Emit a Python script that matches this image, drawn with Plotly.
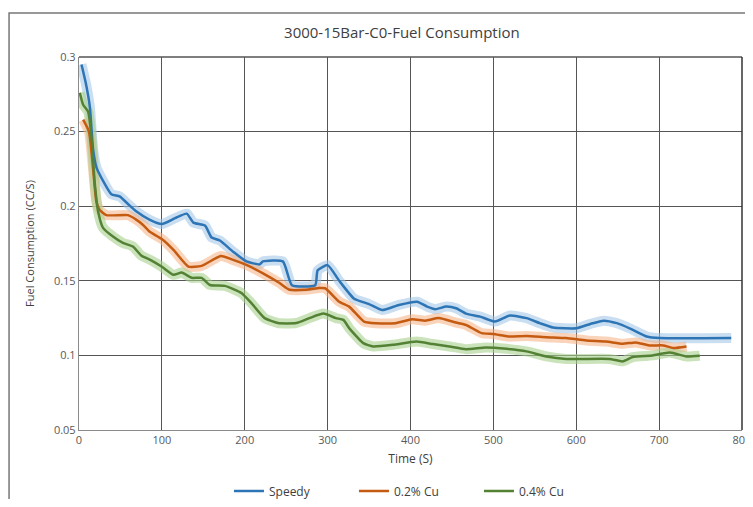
import plotly.graph_objects as go

speedy_x = [3, 8, 13, 17, 21, 29, 39, 49, 59, 69, 85, 100, 116, 130, 138, 152, 160, 170, 186, 202, 218, 222, 246, 257, 285, 288, 300, 314, 332, 350, 366, 386, 408, 420, 430, 443, 455, 467, 484, 502, 520, 540, 556, 572, 600, 617, 633, 649, 665, 685, 701, 787]
speedy_y = [0.295, 0.283, 0.267, 0.238, 0.226, 0.217, 0.208, 0.2066, 0.2015, 0.1966, 0.191, 0.188, 0.192, 0.195, 0.189, 0.187, 0.179, 0.177, 0.1695, 0.163, 0.161, 0.163, 0.163, 0.147, 0.147, 0.157, 0.1605, 0.150, 0.138, 0.1344, 0.1304, 0.1338, 0.136, 0.1327, 0.131, 0.1327, 0.1316, 0.128, 0.126, 0.1227, 0.1267, 0.125, 0.1216, 0.1187, 0.1182, 0.1211, 0.1233, 0.1216, 0.118, 0.1127, 0.1116, 0.1116]

cu02_x = [5, 12, 17, 21, 25, 33, 59, 69, 77, 85, 100, 114, 132, 148, 171, 186, 202, 222, 242, 254, 274, 290, 297, 314, 326, 344, 358, 382, 402, 418, 434, 455, 467, 486, 500, 518, 540, 564, 588, 612, 636, 656, 672, 688, 705, 717, 733]
cu02_y = [0.258, 0.25, 0.225, 0.203, 0.1974, 0.194, 0.194, 0.191, 0.1876, 0.183, 0.178, 0.1707, 0.1595, 0.160, 0.1666, 0.164, 0.1606, 0.155, 0.1485, 0.144, 0.144, 0.1452, 0.145, 0.136, 0.1327, 0.1227, 0.1216, 0.1216, 0.1242, 0.1233, 0.125, 0.122, 0.1204, 0.1149, 0.1144, 0.1127, 0.113, 0.1122, 0.1116, 0.11, 0.1093, 0.1078, 0.1087, 0.1067, 0.1067, 0.105, 0.106]

cu04_x = [1, 5, 11, 15, 19, 23, 29, 41, 53, 65, 75, 86, 100, 114, 124, 136, 148, 158, 176, 196, 208, 224, 240, 262, 278, 295, 310, 319, 326, 343, 355, 379, 407, 427, 447, 467, 491, 516, 540, 564, 588, 640, 656, 668, 692, 713, 733, 749]
cu04_y = [0.276, 0.268, 0.2634, 0.2466, 0.2155, 0.1966, 0.1855, 0.1797, 0.1754, 0.173, 0.167, 0.164, 0.1594, 0.154, 0.1555, 0.152, 0.152, 0.1472, 0.1466, 0.1418, 0.135, 0.125, 0.1217, 0.1217, 0.125, 0.128, 0.125, 0.1238, 0.1183, 0.1082, 0.106, 0.1071, 0.1093, 0.1076, 0.106, 0.1042, 0.1053, 0.1044, 0.1027, 0.0993, 0.0976, 0.0976, 0.096, 0.0989, 0.1, 0.102, 0.0993, 0.0998]

x_ticks = [0, 100, 200, 300, 400, 500, 600, 700, 800]
y_ticks = [0.05, 0.1, 0.15, 0.2, 0.25, 0.3]

series = [
    ("Speedy", speedy_x, speedy_y, "#2E75B6", "rgba(157,195,230,0.55)"),
    ("0.2% Cu", cu02_x, cu02_y, "#C55A11", "rgba(244,177,131,0.55)"),
    ("0.4% Cu", cu04_x, cu04_y, "#548235", "rgba(169,209,142,0.6)"),
]

fig = go.Figure()
for name, xs, ys, col, band in series:
    fig.add_trace(go.Scatter(x=xs, y=ys, mode="lines", line=dict(color=band, width=10, shape="spline", smoothing=0.5),
                             showlegend=False, hoverinfo="skip"))
for name, xs, ys, col, band in series:
    fig.add_trace(go.Scatter(x=xs, y=ys, mode="lines", name=name,
                             line=dict(color=col, width=2.5, shape="spline", smoothing=0.5)))

grid = "#555555"
fig.update_layout(
    width=745, height=491,
    margin=dict(l=71, r=11, t=49, b=69, autoexpand=False),
    paper_bgcolor="white", plot_bgcolor="white",
    font=dict(family="Open Sans, Liberation Sans, sans-serif", color="#595959", size=11),
    title=dict(text="3000-15Bar-C0-Fuel Consumption", x=0.487, xanchor="center", xref="paper",
               y=1 - 25 / 491, yanchor="middle", yref="container",
               font=dict(size=15, color="#404040")),
    legend=dict(orientation="h", x=0.509, xanchor="center", y=-0.1635, yanchor="middle",
                font=dict(size=12, color="#404040"), itemwidth=30, entrywidth=80),
    xaxis=dict(range=[0, 800], tickvals=x_ticks, showgrid=True, gridcolor=grid, gridwidth=1.3, automargin=False,
               showline=True, linecolor="#8a8a8a", linewidth=1.3, mirror=False, zeroline=False,
               ticks="", ticklabeloverflow="allow",
               title=dict(text="Time (S)", font=dict(size=12, color="#404040"), standoff=8),
               tickfont=dict(size=11, color="#595959")),
    yaxis=dict(range=[0.05, 0.3], tickvals=y_ticks, ticktext=["0.05", "0.1", "0.15", "0.2", "0.25", "0.3"],
               showgrid=True, gridcolor=grid, gridwidth=1.3, automargin=False,
               showline=True, linecolor="#8a8a8a", linewidth=1.3, zeroline=False, ticks="",
               title=dict(text="Fuel Consumption (CC/S)", font=dict(size=11, color="#404040"), standoff=17),
               tickfont=dict(size=11, color="#595959")),
)
fig.add_shape(type="line", xref="paper", yref="paper", x0=0, x1=1, y0=1, y1=1, line=dict(color=grid, width=1.5))
fig.add_shape(type="line", xref="paper", yref="paper", x0=1, x1=1, y0=0, y1=1, line=dict(color="#333333", width=1.5))
fig.add_shape(type="rect", xref="paper", yref="paper", x0=-0.1055, x1=1.009, y0=-0.3, y1=1.118,
              line=dict(color="#777777", width=1.5), layer="below")
fig.write_html("out.html")
